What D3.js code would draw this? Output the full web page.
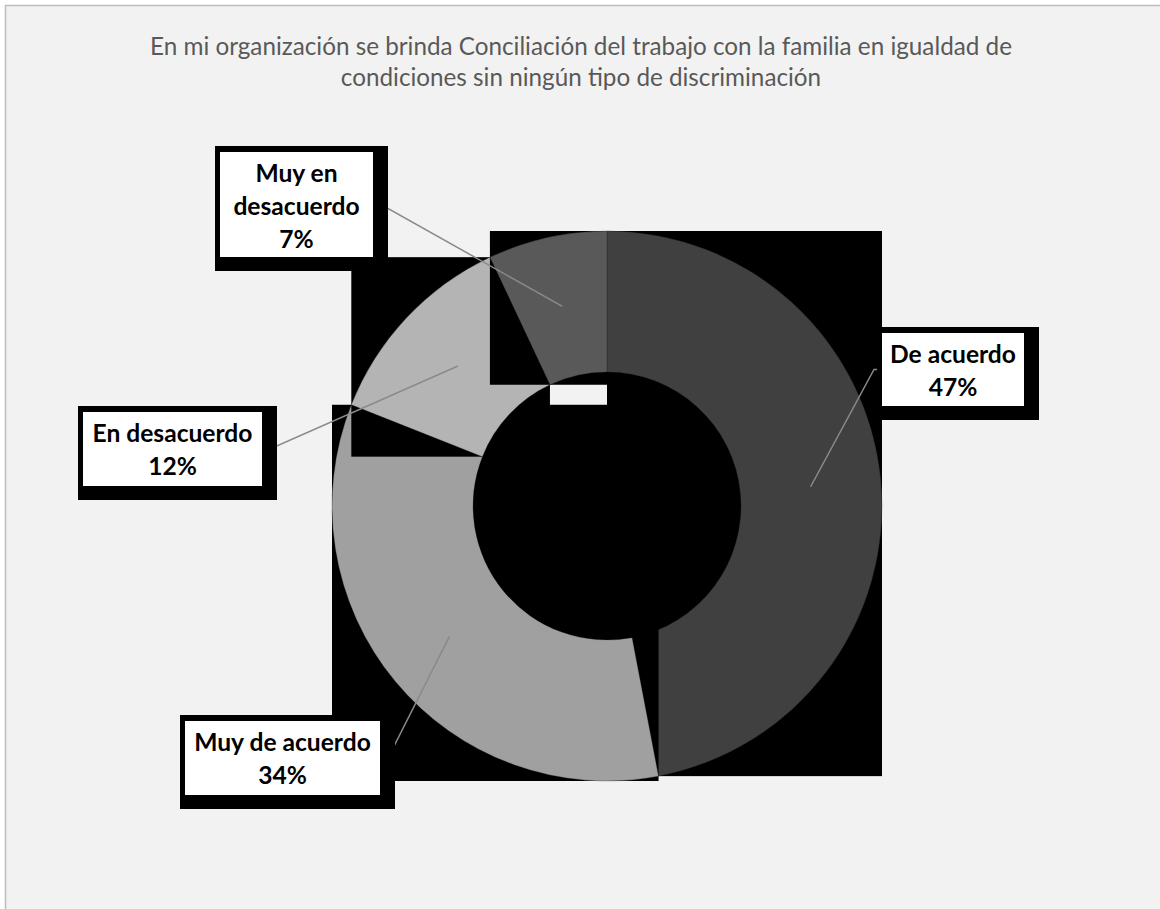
<!DOCTYPE html>
<html>
<head>
<meta charset="utf-8">
<script src="https://cdn.jsdelivr.net/npm/d3@7"></script>
<style>
  html, body { margin: 0; padding: 0; background: #ffffff; }
  svg { display: block; }
</style>
</head>
<body>
<svg id="chart" width="1160" height="909"></svg>
<script>
// ---- data ----
const titleLines = [
  "En mi organización se brinda Conciliación del trabajo con la familia en igualdad de",
  "condiciones sin ningún tipo de discriminación"
];
const categories = ["De acuerdo", "Muy de acuerdo", "En desacuerdo", "Muy en desacuerdo"];
const values = [47, 34, 12, 7];
const percentLabels = ["47%", "34%", "12%", "7%"];
const categoryLines = [["De acuerdo"], ["Muy de acuerdo"], ["En desacuerdo"], ["Muy en", "desacuerdo"]];

// ---- style / layout ----
const sliceColors = ["#404040", "#a0a0a0", "#b4b4b4", "#595959"];
const center = { x: 607, y: 506 };
const outerR = 275, innerR = 134;
const titleWidth = 862;
// white label boxes (x, y, w, h)
const labelBoxes = [
  { x: 882, y: 333, w: 142, h: 73 },
  { x: 185, y: 721, w: 195, h: 74 },
  { x: 83,  y: 412, w: 179, h: 74 },
  { x: 220, y: 152, w: 153, h: 105 }
];

const svg = d3.select("#chart");

// chart area
svg.append("rect")
  .attr("x", 5.5).attr("y", 5.5)
  .attr("width", 1300).attr("height", 1100)
  .attr("fill", "#f2f2f2")
  .attr("stroke", "#bdbdbd").attr("stroke-width", 1.5);

// title
const title = svg.append("text")
  .attr("text-anchor", "middle")
  .attr("fill", "#595959")
  .style("font-family", "Lato, 'Open Sans', sans-serif")
  .style("font-size", "20px");
title.selectAll("tspan").data(titleLines).join("tspan")
  .attr("x", 581)
  .attr("y", (d, i) => 55 + i * 31)
  .text(d => d);
const w0 = title.select("tspan").node().getComputedTextLength();
title.style("font-size", (20 * titleWidth / w0).toFixed(2) + "px");

// pie
const pie = d3.pie().sort(null).value(d => d)(values);
const arc = d3.arc().innerRadius(innerR).outerRadius(outerR);
const plot = svg.append("g").attr("transform", `translate(${center.x},${center.y})`);

pie.forEach((p, i) => {
  const g = plot.append("g");
  const path = g.append("path")
    .attr("d", arc(p))
    .attr("fill", sliceColors[i])
    .attr("stroke", "#1a1a1a").attr("stroke-width", 0.6).attr("stroke-opacity", 0.5);
  const bb = path.node().getBBox();
  g.insert("rect", "path")
    .attr("x", bb.x).attr("y", bb.y)
    .attr("width", bb.width).attr("height", bb.height)
    .attr("fill", "#000");
});

// leader lines
const leaders = svg.append("g");
pie.forEach((p, i) => {
  const c = arc.centroid(p);
  const cx = c[0] + center.x, cy = c[1] + center.y;
  const b = labelBoxes[i];
  const midY = b.y + b.h / 2;
  const onLeft = cx < b.x;
  const ex = onLeft ? b.x : b.x + b.w;
  const pts = [[ex, midY], [ex + (onLeft ? -8 : 8), midY], [cx, cy]];
  leaders.append("path")
    .attr("d", d3.line()(pts))
    .attr("fill", "none")
    .attr("stroke", "#8a8a8a").attr("stroke-width", 1.5);
});

// labels
const labels = svg.append("g");
pie.forEach((p, i) => {
  const b = labelBoxes[i];
  const g = labels.append("g");
  g.append("rect")
    .attr("x", b.x - 5).attr("y", b.y - 6)
    .attr("width", b.w + 20).attr("height", b.h + 20)
    .attr("fill", "#000");
  g.append("rect")
    .attr("x", b.x).attr("y", b.y)
    .attr("width", b.w).attr("height", b.h)
    .attr("fill", "#ffffff");
  const lines = categoryLines[i].concat([percentLabels[i]]);
  const t = g.append("text")
    .attr("text-anchor", "middle")
    .attr("fill", "#000")
    .style("font-family", "Lato, 'Open Sans', sans-serif")
    .style("font-weight", "700")
    .style("font-size", "24.6px");
  t.selectAll("tspan").data(lines).join("tspan")
    .attr("x", b.x + b.w / 2)
    .attr("y", (d, j) => b.y + 30 + j * 33)
    .text(d => d);
});
</script>
</body>
</html>
